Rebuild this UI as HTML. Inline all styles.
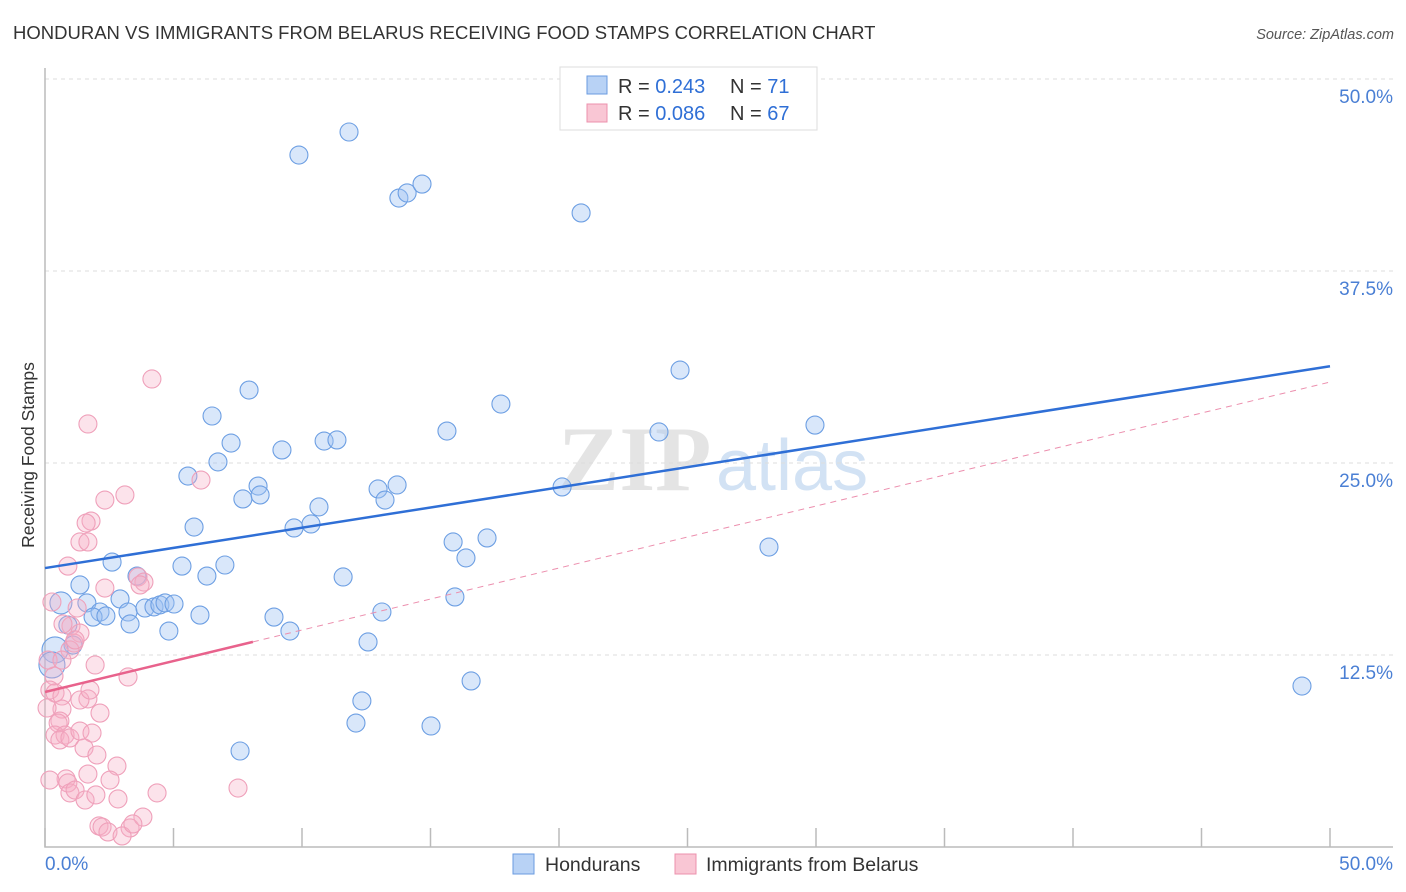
<!DOCTYPE html>
<html><head><meta charset="utf-8"><style>
body{margin:0;background:#fff;font-family:"Liberation Sans",sans-serif;}
svg{display:block}
</style></head><body>
<svg id="chart" width="1406" height="892">
<text x="13" y="39" font-size="18.5" fill="#333">HONDURAN VS IMMIGRANTS FROM BELARUS RECEIVING FOOD STAMPS CORRELATION CHART</text>
<text x="1394" y="39" font-size="14.5" fill="#555" font-style="italic" text-anchor="end">Source: ZipAtlas.com</text>
<g><text x="558" y="490" font-size="92" font-family="Liberation Serif" fill="#e4e4e4" font-weight="bold">ZIP</text><text x="716" y="490" font-size="72" fill="#d2e2f4">atlas</text></g>
<g id="grid"></g><g id="axes"></g><g id="pts"></g><g id="lines"></g>
<text transform="translate(34,455) rotate(-90)" font-size="17.5" fill="#333" text-anchor="middle">Receiving Food Stamps</text>
<g>
<rect x="560" y="67" width="257" height="63" fill="#fff" stroke="#ddd"/>
<rect x="587" y="76" width="20" height="18" fill="#b8d2f5" stroke="#6a9be0"/>
<rect x="587" y="104" width="20" height="18" fill="#f9c6d4" stroke="#ec90ad"/>
<text x="618" y="93" font-size="20" fill="#333">R = <tspan fill="#2f6fd6">0.243</tspan><tspan x="730">N = </tspan><tspan fill="#2f6fd6">71</tspan></text>
<text x="618" y="120" font-size="20" fill="#333">R = <tspan fill="#2f6fd6">0.086</tspan><tspan x="730">N = </tspan><tspan fill="#2f6fd6">67</tspan></text>
</g>
<g>
<rect x="513" y="854" width="21" height="20" fill="#b8d2f5" stroke="#6a9be0"/>
<text x="545" y="871" font-size="19.5" fill="#333">Hondurans</text>
<rect x="675" y="854" width="21" height="20" fill="#f9c6d4" stroke="#ec90ad"/>
<text x="706" y="871" font-size="19.5" fill="#333">Immigrants from Belarus</text>
</g>
</svg>
<script>
const yTicks=[12.5,25,37.5,50];
const yTickLabels=["12.5%","25.0%","37.5%","50.0%"];
const xTicks=[0,5,10,15,20,25,30,35,40,45,50];
const blueX=[11.83,9.88,13.77,14.09,14.67,20.86,24.71,7.94,17.74,6.50,15.64,7.24,10.86,11.36,23.89,29.96,9.22,6.73,5.56,8.29,7.70,8.37,12.96,13.70,13.23,10.66,20.12,9.69,10.35,5.80,15.88,17.20,16.38,28.17,2.61,5.33,7.00,6.30,11.60,1.36,3.58,0.62,1.63,2.92,2.14,1.87,2.37,3.23,3.89,4.24,4.47,4.67,5.02,6.03,3.31,8.91,13.11,15.95,4.82,9.53,0.89,1.09,12.57,0.39,0.27,16.58,48.91,12.33,12.10,15.02,7.59];
const blueY=[46.55,45.05,42.25,42.58,43.16,41.28,31.05,29.75,28.84,28.06,27.08,26.30,26.43,26.50,27.02,27.47,25.85,25.07,24.15,23.50,22.66,22.92,23.31,23.57,22.59,22.14,23.44,20.77,21.03,20.83,19.86,20.12,18.82,19.53,18.55,18.29,18.36,17.64,17.58,17.06,17.64,15.89,15.89,16.15,15.30,14.97,15.04,15.30,15.56,15.63,15.76,15.89,15.82,15.10,14.52,14.97,15.30,16.28,14.06,14.06,14.45,13.15,13.35,12.83,11.85,10.81,10.48,9.51,8.07,7.88,6.25];
const pinkX=[4.16,1.67,6.07,3.11,2.33,1.79,1.60,1.36,1.67,0.89,3.62,3.85,2.33,0.27,1.25,1.01,0.70,1.36,1.13,0.97,1.95,3.23,0.35,0.19,0.39,0.66,1.67,1.36,2.14,0.66,0.58,0.51,0.39,0.78,0.58,0.97,1.36,1.83,1.52,2.02,1.67,2.80,0.82,0.89,0.97,1.17,1.56,2.84,4.36,7.51,2.10,2.22,2.45,3.31,3.00,3.81,3.42,0.19,0.12,0.08,2.53,1.98,1.17,0.66,3.70,1.75];
const pinkY=[30.47,27.54,23.89,22.92,22.59,21.22,21.09,19.86,19.86,18.29,17.58,17.25,16.86,15.95,15.56,14.39,14.52,13.93,13.28,12.83,11.85,11.07,11.13,10.22,10.03,9.83,9.64,9.57,8.72,8.98,8.20,8.07,7.29,7.29,6.97,7.10,7.55,7.42,6.45,5.99,4.75,5.27,4.43,4.17,3.52,3.71,3.06,3.13,3.52,3.84,1.37,1.30,0.98,1.24,0.72,1.95,1.50,4.36,12.17,9.05,4.36,3.39,13.48,12.17,17.06,10.22];
const blueTrend=[18.16,31.3];
const pinkTrend=[10.09,30.27];
const pinkSolidEnd=8.09;
const NS='http://www.w3.org/2000/svg';
const X=v=>45+v*25.7, Y=v=>847-v*15.36;
function mk(tag,attrs,parent){const e=document.createElementNS(NS,tag);for(const k in attrs)e.setAttribute(k,attrs[k]);document.getElementById(parent).appendChild(e);return e;}
yTicks.forEach((t,i)=>{
 const g=mk('line',{x1:45,x2:1393,y1:Y(t),y2:Y(t),stroke:'#ddd','stroke-dasharray':'4,4'},'grid');
 
 
 const l=mk('text',{x:1393,y:Y(t)+24,'font-size':19,fill:'#4a7fd4','text-anchor':'end'},'grid');
 l.textContent=yTickLabels[i];
 
 
});
const ax=mk('path',{d:'M45,68V847H1393',fill:'none',stroke:'#bbb','stroke-width':1.5},'axes');


xTicks.forEach(t=>{
 const k=mk('line',{x1:X(t),x2:X(t),y1:828,y2:847,stroke:'#bbb','stroke-width':1.5},'axes');
 
 
});
const xl0=mk('text',{x:45,y:870,'font-size':19,fill:'#4a7fd4'},'axes');xl0.textContent='0.0%';


const xl1=mk('text',{x:1393,y:870,'font-size':19,fill:'#4a7fd4','text-anchor':'end'},'axes');xl1.textContent='50.0%';


blueX.forEach((v,i)=>{
 const r=(i===63||i===64)?13:(i===41?11:9);
 const c=mk('circle',{cx:X(v),cy:Y(blueY[i]),r:r,fill:'rgba(160,196,242,0.4)',stroke:'#6d9fe3','stroke-width':1.1},'pts');
 
 
});
pinkX.forEach((v,i)=>{
 const c=mk('circle',{cx:X(v),cy:Y(pinkY[i]),r:9,fill:'rgba(245,175,198,0.35)',stroke:'#efa0ba','stroke-width':1.1},'pts');
 
 
});
const bl=mk('line',{x1:X(0),y1:Y(blueTrend[0]),x2:X(50),y2:Y(blueTrend[1]),stroke:'#2f6fd6','stroke-width':2.5},'lines');


const pe=pinkTrend[0]+(pinkTrend[1]-pinkTrend[0])*pinkSolidEnd/50;
const pd=mk('line',{x1:X(pinkSolidEnd),y1:Y(pe),x2:X(50),y2:Y(pinkTrend[1]),stroke:'#ec8fae','stroke-width':1,'stroke-dasharray':'6,5'},'lines');


const ps=mk('line',{x1:X(0),y1:Y(pinkTrend[0]),x2:X(pinkSolidEnd),y2:Y(pe),stroke:'#e8628c','stroke-width':2.5},'lines');


</script>
</body></html>
